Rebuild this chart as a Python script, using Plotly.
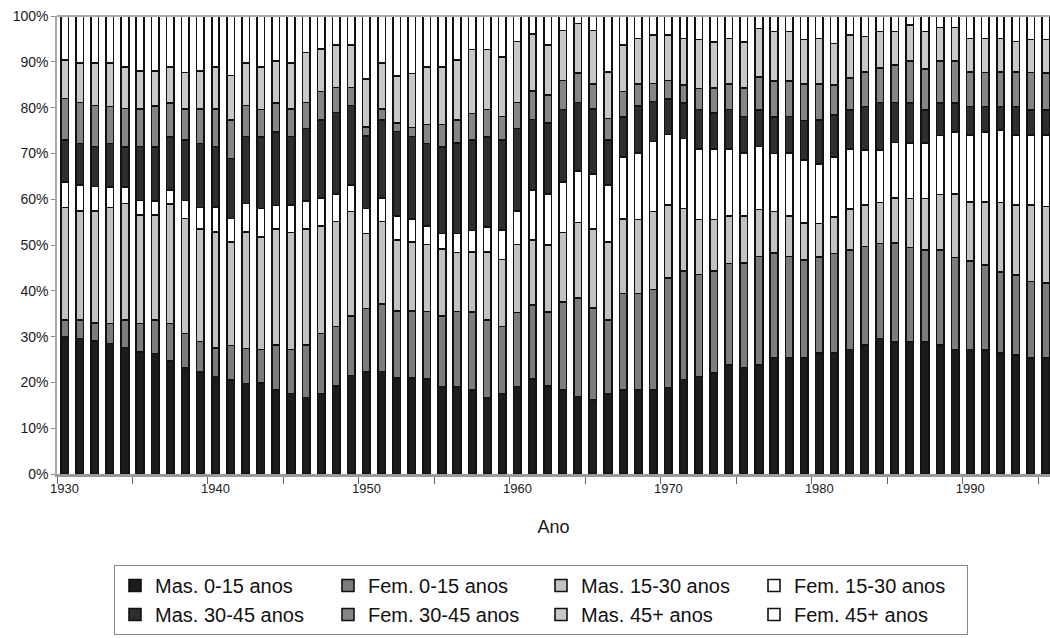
import plotly.graph_objects as go

years = list(range(1930, 1996))

mas_0_15 = [30.0, 29.6, 29.0, 28.5, 27.6, 26.7, 26.3, 24.7, 23.1, 22.3,
            21.3, 20.5, 19.8, 19.9, 18.3, 17.6, 16.7, 17.6, 19.2, 21.5,
            22.3, 22.3, 20.9, 20.9, 20.7, 19.1, 19.1, 18.3, 16.7, 17.6,
            19.1, 20.7, 19.2, 18.3, 16.9, 16.2, 17.6, 18.3, 18.3, 18.3,
            18.9, 20.7, 21.3, 22.1, 23.8, 23.1, 23.8, 25.3, 25.3, 25.3,
            26.5, 26.5, 27.2, 28.2, 29.6, 28.9, 28.9, 28.9, 28.2, 27.2,
            27.2, 27.2, 26.5, 26.0, 25.3, 25.3]
fem_0_15 = [3.6, 4.0, 3.9, 4.4, 6.0, 6.2, 7.3, 8.2, 7.6, 6.6,
            6.2, 7.6, 7.6, 7.3, 9.8, 9.6, 11.4, 13.1, 13.0, 13.0,
            13.8, 14.7, 14.6, 14.6, 14.8, 15.4, 16.4, 17.1, 16.9, 14.6,
            16.2, 16.2, 16.2, 19.3, 21.5, 20.0, 16.0, 21.1, 21.1, 22.0,
            23.9, 23.7, 22.3, 22.2, 22.2, 22.9, 23.7, 22.9, 22.2, 21.5,
            21.0, 21.7, 21.7, 21.5, 20.7, 21.5, 20.6, 20.0, 20.7, 20.1,
            19.4, 18.4, 17.7, 17.5, 16.7, 16.4]
mas_15_30 = [24.6, 23.8, 24.5, 25.3, 25.5, 23.7, 22.9, 26.1, 25.1, 24.6,
             25.3, 22.6, 25.5, 24.6, 25.3, 25.5, 25.3, 23.4, 22.9, 22.8,
             16.4, 18.0, 15.6, 15.1, 14.6, 14.6, 12.9, 13.1, 14.9, 14.7,
             14.8, 14.2, 14.6, 15.1, 16.5, 17.3, 17.0, 16.2, 16.2, 17.0,
             16.0, 13.7, 12.0, 11.3, 10.3, 10.3, 10.3, 9.1, 8.9, 8.0,
             7.3, 8.0, 8.9, 9.1, 8.9, 9.8, 10.7, 11.3, 12.2, 13.8,
             12.9, 13.8, 15.1, 15.3, 16.7, 16.7]
fem_15_30 = [5.6, 5.7, 5.3, 4.5, 3.6, 3.1, 3.1, 3.1, 3.9, 4.7,
             5.5, 5.1, 6.2, 6.2, 5.2, 6.0, 6.1, 6.2, 6.0, 5.8,
             5.5, 5.2, 5.2, 5.0, 4.1, 3.4, 4.2, 4.7, 5.5, 6.4,
             7.3, 10.8, 11.1, 11.1, 11.3, 12.0, 12.5, 13.6, 14.5, 15.3,
             15.3, 15.3, 15.3, 15.3, 14.6, 13.7, 13.8, 12.7, 13.7, 13.8,
             13.0, 13.1, 13.1, 12.0, 11.5, 12.2, 12.2, 12.2, 12.9, 13.6,
             14.6, 15.3, 15.9, 15.3, 15.3, 15.6]
mas_30_45 = [9.1, 9.1, 8.7, 9.5, 8.7, 11.8, 11.8, 11.6, 13.2, 14.0,
             13.2, 13.1, 14.6, 15.6, 16.0, 14.9, 15.9, 17.0, 17.8, 17.3,
             15.8, 17.0, 18.4, 18.0, 18.0, 18.9, 19.7, 19.7, 19.7, 19.7,
             18.0, 15.4, 15.5, 15.8, 14.9, 14.1, 9.8, 8.7, 10.3, 8.7,
             7.8, 7.8, 8.7, 7.9, 8.7, 8.0, 7.9, 8.0, 8.0, 8.7,
             9.6, 9.1, 8.6, 9.5, 10.3, 8.7, 8.7, 7.1, 7.1, 6.3,
             6.2, 5.5, 5.1, 6.2, 5.5, 5.5]
fem_30_45 = [9.1, 8.9, 9.0, 8.0, 8.4, 8.2, 9.0, 7.4, 6.8, 7.5,
             8.2, 8.4, 6.8, 6.0, 6.3, 6.0, 5.6, 6.2, 5.5, 3.9,
             1.9, 2.3, 1.8, 2.0, 4.1, 4.9, 5.1, 5.8, 6.0, 5.1,
             5.7, 6.3, 6.2, 6.3, 6.4, 5.5, 4.7, 5.5, 4.7, 4.0,
             4.0, 3.9, 4.6, 5.5, 5.5, 6.2, 7.3, 7.8, 7.8, 7.9,
             7.9, 6.6, 6.9, 7.5, 7.5, 8.2, 9.2, 9.0, 9.2, 9.2,
             7.5, 7.5, 7.5, 7.5, 8.2, 8.0]
mas_45 = [8.4, 8.6, 9.2, 9.5, 9.1, 8.3, 7.6, 7.9, 8.0, 8.3,
          9.2, 9.7, 9.2, 9.3, 9.2, 10.0, 10.9, 9.3, 9.3, 9.3,
          10.5, 10.0, 10.3, 11.8, 12.6, 12.6, 13.1, 14.0, 13.1, 13.1,
          13.3, 12.4, 10.9, 10.9, 10.9, 11.6, 10.2, 10.2, 10.0, 10.6,
          10.0, 10.2, 10.7, 10.0, 10.0, 10.0, 10.6, 10.8, 10.8, 9.8,
          10.0, 9.1, 9.5, 7.8, 8.0, 7.3, 7.8, 8.2, 7.3, 7.3,
          7.4, 7.4, 7.4, 6.7, 7.2, 7.4]
fem_45 = [9.6, 10.3, 10.3, 10.3, 11.1, 12.0, 12.0, 11.1, 12.3, 12.0,
          11.1, 13.0, 10.3, 11.1, 9.8, 10.3, 8.0, 7.2, 6.3, 6.3,
          13.8, 10.3, 13.1, 12.5, 11.1, 11.1, 9.6, 7.3, 7.3, 8.9,
          5.6, 3.9, 6.3, 3.2, 1.6, 3.2, 12.2, 6.3, 4.9, 4.1,
          4.1, 4.9, 5.1, 5.7, 4.9, 5.7, 2.7, 3.4, 3.4, 5.1,
          4.9, 6.0, 4.1, 4.5, 3.4, 3.4, 2.0, 3.4, 2.5, 2.5,
          4.9, 4.9, 4.9, 5.6, 5.1, 5.1]

series_names = ["Mas. 0-15 anos", "Fem. 0-15 anos", "Mas. 15-30 anos", "Fem. 15-30 anos",
                "Mas. 30-45 anos", "Fem. 30-45 anos", "Mas. 45+ anos", "Fem. 45+ anos"]
series_values = [mas_0_15, fem_0_15, mas_15_30, fem_15_30,
                 mas_30_45, fem_30_45, mas_45, fem_45]
series_colors = ["#1c1c1c", "#7c7c7c", "#c2c2c2", "#ffffff",
                 "#2e2e2e", "#858585", "#c8c8c8", "#ffffff"]

x_labels = [1930, 1940, 1950, 1960, 1970, 1980, 1990]
y_ticks = list(range(0, 101, 10))
y_labels = [f"{v}%" for v in y_ticks]

fig = go.Figure()
for name, vals, col in zip(series_names, series_values, series_colors):
    fig.add_trace(go.Bar(
        x=years, y=vals, name=name,
        marker=dict(color=col, line=dict(color="#111111", width=1.6)),
    ))

font_family = "Liberation Sans, Arial, sans-serif"

fig.update_layout(
    width=1050, height=638,
    margin=dict(l=57, r=0, t=16, b=164),
    paper_bgcolor="white", plot_bgcolor="white",
    barmode="stack", barnorm="percent", bargap=0.5,
    font=dict(family=font_family, color="#1a1a1a"),
    xaxis=dict(
        range=[1929.5, 1995.28],
        tickvals=x_labels, ticktext=[str(v) for v in x_labels],
        ticks="", showgrid=False, zeroline=False,
        showline=True, linecolor="#9a9a9a", linewidth=3,
        tickfont=dict(size=13, family=font_family),
        minor=dict(tickvals=[1929.5 + 5 * k for k in range(14)],
                   ticks="outside", ticklen=7, tickcolor="#666666", tickwidth=1),
        title=dict(text="Ano", font=dict(size=18, family=font_family), standoff=26),
    ),
    yaxis=dict(
        range=[0, 100], tickvals=y_ticks, ticktext=y_labels,
        ticks="outside", ticklen=4, tickcolor="#888888",
        showgrid=False, zeroline=False,
        showline=True, linecolor="#a8a8a8", linewidth=1.5,
        tickfont=dict(size=14, family=font_family),
    ),
    legend=dict(
        orientation="h", traceorder="normal",
        x=(114 - 57) / 993.0, y=(474 - 565) / 458.0,
        xanchor="left", yanchor="top",
        bordercolor="#8a8a8a", borderwidth=1, bgcolor="white",
        font=dict(size=20, family=font_family, color="#111111"),
        entrywidth=168, itemwidth=30, tracegroupgap=0,
    ),
    shapes=[dict(type="line", xref="paper", yref="paper", x0=0, x1=1, y0=1, y1=1,
                 line=dict(color="#a8a8a8", width=2))],
)

fig.write_html("out.html")
